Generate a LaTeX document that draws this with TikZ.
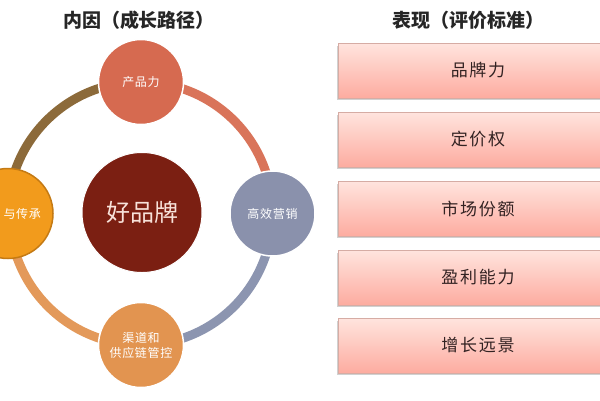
\documentclass[tikz,border=0pt]{standalone}
\usepackage{fontspec}
\usetikzlibrary{backgrounds}
\newfontfamily\cjk{Noto Sans CJK SC}
\definecolor{cTop}{RGB}{214,106,80}
\definecolor{cRight}{RGB}{138,145,172}
\definecolor{cBottom}{RGB}{226,148,80}
\definecolor{cLeft}{RGB}{242,155,28}
\definecolor{cLeftBd}{RGB}{196,122,20}
\definecolor{cCenter}{RGB}{123,31,18}
\definecolor{aTR}{RGB}{217,116,90}
\definecolor{aRB}{RGB}{140,149,176}
\definecolor{aBL}{RGB}{227,153,90}
\definecolor{aLT}{RGB}{140,106,58}
\definecolor{boxTop}{RGB}{255,228,222}
\definecolor{boxBot}{RGB}{253,172,160}
\definecolor{boxBd}{RGB}{214,172,164}
\definecolor{boxTxt}{RGB}{50,34,34}
\tikzset{
  ring/.style={line width=9pt},
  small/.style={circle, minimum size=85pt, inner sep=0pt, draw=white, line width=1.5pt, text=white, font=\cjk\fontsize{12}{15}\selectfont\addfontfeature{LetterSpace=6}, align=center},
  evalbox/.style={rectangle, minimum width=280pt, minimum height=55pt, inner sep=0pt, draw=boxBd, line width=0.6pt, top color=boxTop, bottom color=boxBot, text=boxTxt, font=\cjk\fontsize{17}{20}\selectfont\addfontfeature{LetterSpace=10}},
  title/.style={font=\cjk\bfseries\fontsize{19}{22}\selectfont, text=black!85}
}
\begin{document}
\begin{tikzpicture}[x=1pt,y=-1pt]
\useasboundingbox (0,0) rectangle (600,400);
\begin{scope}
\clip (0,0) rectangle (600,400);
% titles
\node[title] (t1) at (139,20) {内因（成长路径）};
\node[title] (t2) at (468,20) {表现（评价标准）};
% circles
\node[small, fill=cTop] (top) at (141,82) {产品力};
\node[small, fill=cRight] (right) at (272.5,213.5) {高效营销};
\node[small, fill=cBottom] (bottom) at (141,345) {渠道和\\供应链管控};
\node[small, fill=cLeft, draw=cLeftBd, minimum size=90pt] (left) at (8,213.5) {};
\node[text=white, font=\cjk\fontsize{12}{15}\selectfont\addfontfeature{LetterSpace=6}, anchor=west] (lt) at (0,213.5) {与传承};
\node[circle, minimum size=120pt, inner sep=0pt, fill=cCenter, draw=white, line width=1pt, text={rgb,255:red,248;green,226;blue,218}, font=\cjk\fontsize{24}{28}\selectfont] (brand) at (142,212.5) {好品牌};
% arcs behind circles
\begin{scope}[on background layer]
\fill[white] (0,0) rectangle (600,400);
\draw[ring, aTR] (top.center) arc[start angle=270, end angle=360, radius=131.5];
\draw[ring, aRB] (right.center) arc[start angle=0, end angle=90, radius=131.5];
\draw[ring, aBL] (bottom.center) arc[start angle=90, end angle=180, radius=131.5];
\draw[ring, aLT] (left.center) arc[start angle=180, end angle=270, radius=131.5];
\end{scope}
% boxes
\foreach \y/\t/\n in {70.5/品牌力/b1, 139.5/定价权/b2, 208.5/市场份额/b3, 277.5/盈利能力/b4, 345.5/增长远景/b5}{
  \fill[black, opacity=0.18] (337,\y-27.5+2.5) rectangle (620,\y+27.5+2);
  \node[evalbox] (\n) at (478,\y) {\t};
}
\end{scope}
\end{tikzpicture}
\end{document}
